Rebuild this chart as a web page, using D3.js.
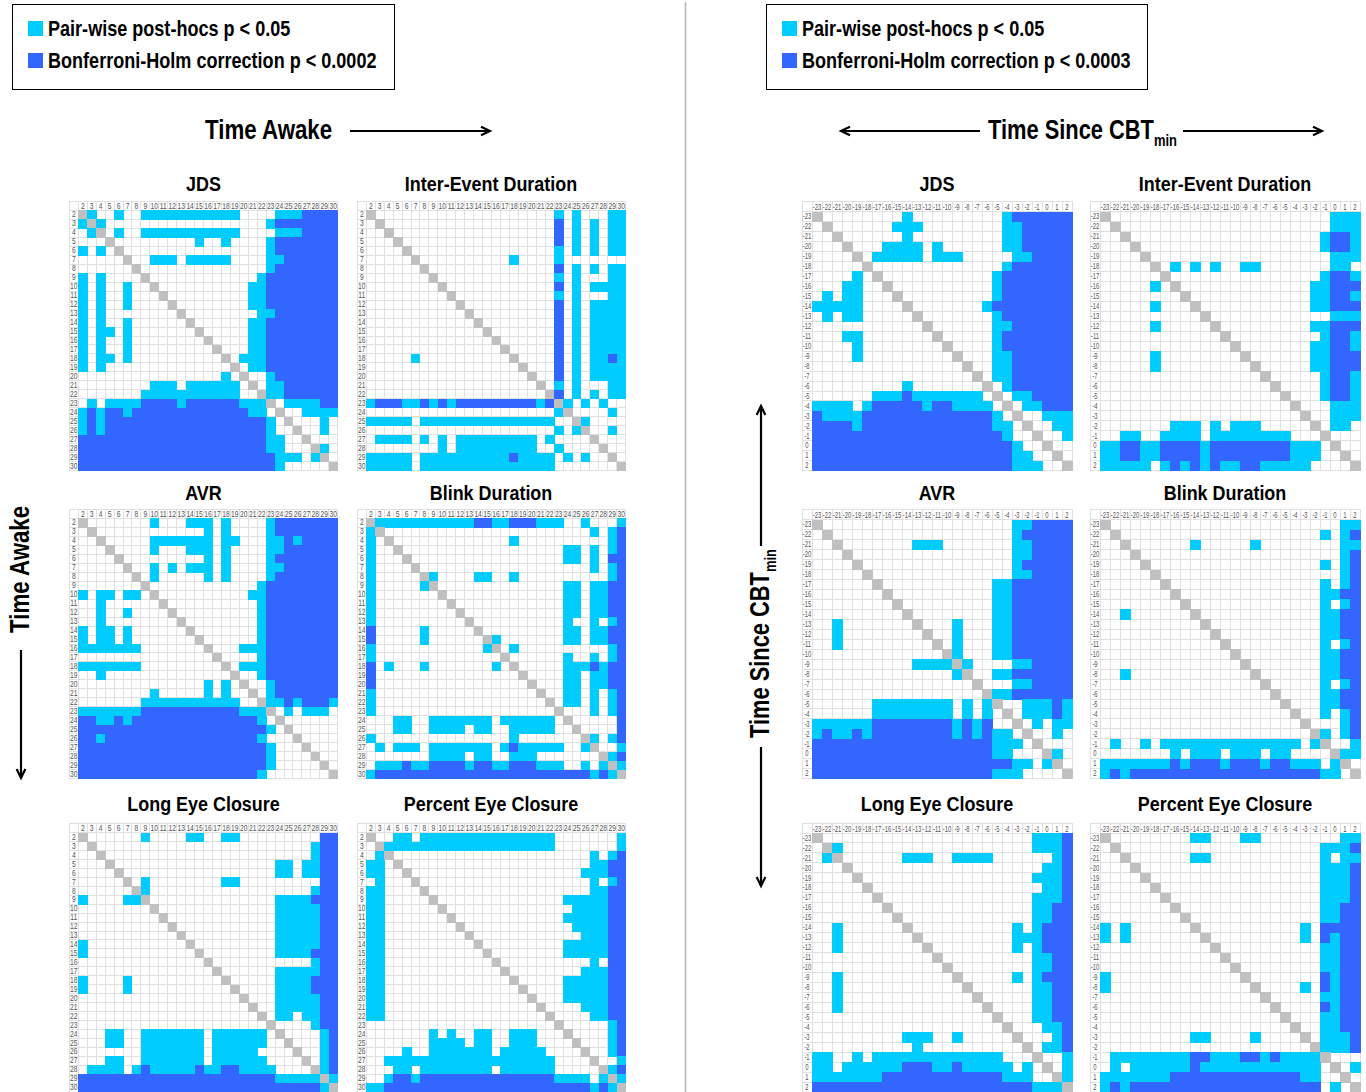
<!DOCTYPE html>
<html><head><meta charset="utf-8">
<script src="https://cdn.jsdelivr.net/npm/d3@7/dist/d3.min.js"></script>
<style>html,body{margin:0;padding:0;background:#fff;overflow:hidden}svg{display:block}</style>
</head><body><svg id="c" width="1366" height="1092"></svg>
<script>
const awakeLabels=["2","3","4","5","6","7","8","9","10","11","12","13","14","15","16","17","18","19","20","21","22","23","24","25","26","27","28","29","30"];
const cbtLabels=["-23","-22","-21","-20","-19","-18","-17","-16","-15","-14","-13","-12","-11","-10","-9","-8","-7","-6","-5","-4","-3","-2","-1","0","1","2"];
const legendLeft=["Pair-wise post-hocs p < 0.05","Bonferroni-Holm correction p < 0.0002"];
const legendRight=["Pair-wise post-hocs p < 0.05","Bonferroni-Holm correction p < 0.0003"];
// cell codes: . not significant, c pair-wise p<0.05, b Bonferroni-Holm, # diagonal
const jdsAwake=[
"#c..c ..ccc ccccc ccc.. ..ccc bbbb",
"c#c.. ..... ..... ..... .cbbb bbbb",
".c#.c ..ccc ccccc ccc.. ..ccc bbbb",
"...#. ..... ...c. .c... .cbbb bbbb",
"c.c.# ..... ..... ..... .cbbb bbbb",
"..... #..cc c.ccc cc... .ccbb bbbb",
"..... .#... ..... ..... .cbbb bbbb",
"c.c.. ..#.. ..... ..... cbbbb bbbb",
"c.c.. c..#. ..... ....c cbbbb bbbb",
"c.c.. c...# ..... ....c cbbbb bbbb",
"c.c.. c.... #.... ....c cbbbb bbbb",
"c.c.. ..... .#... ..... ccbbb bbbb",
"c.c.. c.... ..#.. ....c cbbbb bbbb",
"c.cc. c.... ...#. ....c cbbbb bbbb",
"c.c.. c.... ....# ....c cbbbb bbbb",
"c.c.. c.... ..... #...c cbbbb bbbb",
"c.cc. c.... ..... .#.cc cbbbb bbbb",
"c.c.. ..... ..... ..#.c cbbbb bbbb",
"..... ..... ..... .c.#. .cbbb bbbb",
"..... ...cc c.ccc ccc.# .ccbb bbbb",
"..... ..ccc ccccc ccc.. #ccbb bbbb",
".c.cc ccbbb bcbbb bbbcc c#.cc ccbb",
"cbcbb cbbbb bbbbb bbbbc c.#.. cccc",
"cbcbb bbbbb bbbbb bbbbb bc.#. ..c.",
"cbcbb bbbbb bbbbb bbbbb bc..# ..c.",
"bbbbb bbbbb bbbbb bbbbb bcc.. #...",
"bbbbb bbbbb bbbbb bbbbb bcc.. .#c.",
"bbbbb bbbbb bbbbb bbbbb bbccc .c#.",
"bbbbb bbbbb bbbbb bbbbb bbc.. ...#"];
const interEventAwake=[
"#.... ..... ..... ..... .c.c. ..cc",
".#... ..... ..... ..... .b.c. c.cc",
"..#.. ..... ..... ..... .b.c. c.cc",
"...#. ..... ..... ..... .b.c. c.cc",
"....# ..... ..... ..... .c.c. c.cc",
"..... #.... ..... .c... .c... ....",
"..... .#... ..... ..... .b.c. c.cc",
"..... ..#.. ..... ..... .c.c. ..cc",
"..... ...#. ..... ..... .b.c. cccc",
"..... ....# ..... ..... .c.c. ..cc",
"..... ..... #.... ..... .b.c. cccc",
"..... ..... .#... ..... .b.c. cccc",
"..... ..... ..#.. ..... .b.c. cccc",
"..... ..... ...#. ..... .b.c. cccc",
"..... ..... ....# ..... .b.c. cccc",
"..... ..... ..... #.... .b.c. cccc",
"..... c.... ..... .#... .b.c. ccbc",
"..... ..... ..... ..#.. .b.c. cccc",
"..... ..... ..... ...#. .b.c. cccc",
"..... ..... ..... ....# .c.c. ..cc",
"..... ..... ..... ..... #b.c. c.cc",
"cbbbc cbcbc bbbbb bbbbc b#c.c .c..",
"..... ..... ..... ..... .c#.. ..c.",
"ccccc .cccc ccccc ccccc c..#c ....",
"..... ..... ..... ..... .c.c# ..c.",
".cccc .c.c. ccccc cccc. c.... #...",
"..... ...c. ccccc cccc. .c... .#..",
"ccccc .cccc ccccc cbccc c.c.c ..#.",
"ccccc .cccc ccccc ccccc c.... ...#"];
const avrAwake=[
"#.... ...c. ..ccc .c... .cbbb bbbb",
".#... ..... ....c .c... .cbbb bbbb",
"..#.. ...cc ccccc .cc.. .ccbc bbbb",
"...#. ...c. ..ccc .c... .ccbb bbbb",
"....# ..... ....c .c... .cbbb bbbb",
"..... #..c. c.ccc .c... .ccbb bbbb",
"..... .#.c. ....c .c... .cbbb bbbb",
"..... ..#.. ..... ..... cbbbb bbbb",
"c.cc. cc.#. ..... ....c cbbbb bbbb",
"..c.. ....# ..... ..... cbbbb bbbb",
"..c.. c.... #.... ..... cbbbb bbbb",
"..c.. ..... .#... ..... cbbbb bbbb",
"c.cc. c.... ..#.. ..... cbbbb bbbb",
"c.cc. c.... ...#. ..... cbbbb bbbb",
"ccccc cc... ....# ...cc cbbbb bbbb",
"..... ..... ..... #.... cbbbb bbbb",
"ccccc cc... ..... .#.cc cbbbb bbbb",
"..c.. ..... ..... ..#.. cbbbb bbbb",
"..... ..... ....c .c.#. .cbbb bbbb",
"..... ...c. ....c .c..# .cbbb bbbb",
"..... ..ccc ccccc ccc.. #ccbc bbbc",
"ccccc ccbbb bbbbb bbbcc c#.c. ccc.",
"bbccb cbbbb bbbbb bbbbb c.#.. ....",
"bbbbb bbbbb bbbbb bbbbb bc.#. ....",
"bbcbb bbbbb bbbbb bbbbb c...# ....",
"bbbbb bbbbb bbbbb bbbbb bc... #...",
"bbbbb bbbbb bbbbb bbbbb bc... .#..",
"bbbbb bbbbb bbbbb bbbbb bc... ..#.",
"bbbbb bbbbb bbbbb bbbbb c.... ...#"];
const blinkAwake=[
"#cccc ccccc ccbbc cbbbc cc..c ...c",
"c#... ..... ..... ..... ..... c.cb",
"c.#.. ..... ..... .c... ..... ..cb",
"c..#. ..... ..... ..... ..cc. c.cb",
"c...# ..... ..... ..... ..cc. c.bb",
"c.... #.... ..... ..... ..... c.cb",
"c.... .#c.. ..cc. .c... ..... ..cb",
"c.... .c#.. ..... ..... ..cc. ccbb",
"c.... ...#. ..... ..... ..cc. ccbb",
"c.... ....# ..... ..... ..cc. ccbb",
"c.... ..... #.... ..... ..cc. ccbb",
"c.... ..... .#... ..... ..c.. c.cb",
"b.... .c... ..#.. ..... ..cc. ccbb",
"b.... .c... ...#c ..... ..cc. ccbb",
"c.... ..... ...c# .c... ..... ..cb",
"c.... ..... ..... #.... ..c.. c.cb",
"b.c.. .c... ....c .#... ..ccc bcbb",
"b.... ..... ..... ..#.. ..cc. ccbb",
"b.... ..... ..... ...#. ..cc. ccbb",
"c.... ..... ..... ....# ..cc. c.cb",
"c.... ..... ..... ..... #.cc. c.cb",
"c.... ..... ..... ..... .#... c.cb",
"...cc ..ccc cccc. ccccc c.#.. ...b",
"...cc ..ccc c.cc. .cccc c..#. ...b",
"c.... ..... ..... .c... ....# c.cb",
".c.cc c.ccc cccc. cbccc cc..c #..c",
"..... ..ccc c.cc. .ccc. ..... .#cb",
".cccb ccbbb bcbbc cbbbc cc..c .c#c",
"cbbbb bbbbb bbbbb bbbbb bbbbb cbc#"];
const longAwake=[
"#.... ..c.. ..cc. .cc.. ..... ..bb",
".#... ..... ..... ..... ..... .cbb",
"..#.. ..... ..... ..... ..... .cbb",
"...#. ..... ..... ..... ..cc. ccbb",
"....# ..... ..... ..... ..cc. ccbb",
"..... #.c.. ..... .cc.. ..... ..bb",
"..... .#c.. ..... ..... ..... .cbb",
"c.... cc#.. ..... ..... ..ccc cbbb",
"..... ...#. ..... ..... ..ccc ccbb",
"..... ....# ..... ..... ..ccc ccbb",
"..... ..... #.... ..... ..ccc ccbb",
"..... ..... .#... ..... ..ccc ccbb",
"c.... ..... ..#.. ..... ..ccc ccbb",
"c.... ..... ...#. ..... ..ccc cbbb",
"..... ..... ....# ..... ..... .cbb",
"..... ..... ..... #.... ..ccc ccbb",
"c.... c.... ..... .#... ..ccc cbbb",
"c.... c.... ..... ..#.. ..ccc cbbb",
"..... ..... ..... ...#. ..ccc ccbb",
"..... ..... ..... ....# ..ccc ccbb",
"..... ..... ..... ..... #.cc. ccbb",
"..... ..... ..... ..... .#... .cbb",
"...cc ..ccc cccc. ccccc c.#.. ..cb",
"...cc ..ccc cccc. ccccc c..#. ..cb",
"..... ..ccc cccc. ccccc ....# ..cb",
"...cc ..ccc cccc. ccccc c.... #.cb",
".cccc .cbcc cccbc cbbcc cc... .#cb",
"bbbbb bbbbb bbbbb bbbbb bbccc cc#c",
"bbbbb bbbbb bbbbb bbbbb bbbbb bbc#"];
const percentAwake=[
"#..cc .cccc ccccc ccccc c.... ...c",
".#ccc ccccc ccccc ccccc c.... ...c",
".c#.. ..... ..... ..... ..... c.cb",
"cc.#. ..... ..... ..... ..... ccbb",
"cc..# ..... ..... ..... ....c ccbb",
".c... #.... ..... ..... ..... c.cb",
"cc... .#... ..... ..... ..... ccbb",
"cc... ..#.. ..... ..... ..ccc ccbb",
"cc... ...#. ..... ..... ...cc ccbb",
"cc... ....# ..... ..... ..ccc ccbb",
"cc... ..... #.... ..... ...cc ccbb",
"cc... ..... .#... ..... ....c ccbb",
"cc... ..... ..#.. ..... ..ccc ccbb",
"cc... ..... ...#. ..... ..ccc ccbb",
"cc... ..... ....# ..... ..... c.bb",
"cc... ..... ..... #.... ....c ccbb",
"cc... ..... ..... .#... ..ccc ccbb",
"cc... ..... ..... ..#.. ..ccc ccbb",
"cc... ..... ..... ...#. ..ccc ccbb",
"cc... ..... ..... ....# ....c ccbb",
"cc... ..... ..... ..... #.... ccbb",
"..... ..... ..... ..... .#... ..cb",
"..... ..c.c ..cc. .ccc. ..#.. ..cb",
"..... ..ccc c.cc. .ccc. ...#. ..cb",
"....c ..ccc cccc. ccccc ....# ..cb",
"..ccc ccccc ccccc ccccc c.... #..c",
"...cc .cccc cccc. ccccc c.... .#cb",
"..cbb cbbbb bbbbb bbbbb bcccc .c#c",
"ccbbb bbbbb bbbbb bbbbb bbbbb cbc#"];
const jdsCbt=[
"#.... ....c ..... ....c bbbbbb",
".#... ...cc c.... ....c cbbbbb",
"..#.. ....c ..... ....c cbbbbb",
"...#. ..ccc c.c.. ....c cbbbbb",
"....# .cccc c.ccc ..... ccbbbb",
"..... #.... ..... ....c bbbbbb",
"....c .#... ..... ...cb bbbbbb",
"...cc ..#.. ..... ...cb bbbbbb",
".c.cc ...#. ..... ...cb bbbbbb",
"ccccc ....# ..... ..cbb bbbbbb",
".c.cc ..... #.... ...cb bbbbbb",
"..... ..... .#... ...cc bbbbbb",
"...cc ..... ..#.. ...cb bbbbbb",
"....c ..... ...#. ...cb bbbbbb",
"....c ..... ....# ...cc bbbbbb",
"..... ..... ..... #..cc bbbbbb",
"..... ..... ..... .#.cc bbbbbb",
"..... ....c ..... ..#.c bbbbbb",
"..... .cccb ccccc cc.#. ccbbbb",
"cccc. cbbbb bcbbc ccc.# .ccbbb",
"bcccc bbbbb bbbbb bbbc. #..ccc",
"bbbbc bbbbb bbbbb bbbcc .#..cc",
"bbbbb bbbbb bbbbb bbbbc ..#..c",
"bbbbb bbbbb bbbbb bbbbb c..#..",
"bbbbb bbbbb bbbbb bbbbb cc..#.",
"bbbbb bbbbb bbbbb bbbbb ccc..#"];
const interEventCbt=[
"#.... ..... ..... ..... ...ccc",
".#... ..... ..... ..... ...ccc",
"..#.. ..... ..... ..... ..cbbc",
"...#. ..... ..... ..... ..cbbc",
"....# ..... ..... ..... ...ccc",
"..... #.c.c .c..c c.... ...cc.",
"..... .#... ..... ..... ..cbbc",
"..... c.#.. ..... ..... .ccbbb",
"..... ...#. ..... ..... .ccbbc",
"..... c...# ..... ..... .ccbbb",
"..... ..... #.... ..... ...ccc",
"..... c.... .#... ..... .ccbbb",
"..... ..... ..#.. ..... ..cbbc",
"..... ..... ...#. ..... .ccbbc",
"..... c.... ....# ..... .ccbbb",
"..... c.... ..... #.... .ccbbb",
"..... ..... ..... .#... ..cbbc",
"..... ..... ..... ..#.. ..cbbc",
"..... ..... ..... ...#. ..cbbc",
"..... ..... ..... ....# ...ccc",
"..... ..... ..... ..... #..ccc",
"..... ..ccc .c.cc c.... .#.cc.",
"..cc. .cccc .cccc cccc. ..#...",
"ccbbc cbbbb cbbbb bbbbc cc.#..",
"ccbbc cbbbb cbbbb bbbbc cc..#.",
"ccccc .cbcb cbccb bcccc c....#"];
const avrCbt=[
"#.... ..... ..... ..... ccbbbb",
".#... ..... ..... ..... cbbbbb",
"..#.. ..... ccc.. ..... ccbbbb",
"...#. ..... ..... ..... ccbbbb",
"....# ..... ..... ..... cbbbbb",
"..... #.... ..... ..... ccbbbb",
"..... .#... ..... ...cc bbbbbb",
"..... ..#.. ..... ...cc bbbbbb",
"..... ...#. ..... ...cc bbbbbb",
"..... ....# ..... ...cc bbbbbb",
"..c.. ..... #...c ...cc bbbbbb",
"..c.. ..... .#..c ...cc bbbbbb",
"..c.. ..... ..#.c ...cc bbbbbb",
"..... ..... ...#c ...cc bbbbbb",
"..... ..... cccc# c.... ccbbbb",
"..... ..... ....c #..cc bbbbbb",
"..... ..... ..... .#... ccbbbb",
"..... ..... ..... ..#cc bbbbbb",
"..... .cccc cccc. c.c#. .cccbc",
"..... .cccc cccc. c.c.# .cccbc",
"ccccc cbbbb bbbbc bcb.. #.c.cc",
"cbccb cbbbb bbbbc bcbcc .#..c.",
"bbbbb bbbbb bbbbb bbbcc c.#...",
"bbbbb bbbbb bbbbb bbbcc ...#c.",
"bbbbb bbbbb bbbbb bbbbb cc.c#.",
"bbbbb bbbbb bbbbb bbbcc c....#"];
const blinkCbt=[
"#.... ..... ..... ..... ....cc",
".#... ..... ..... ..... ..c.cb",
"..#.. ....c ..... c.... ....cc",
"...#. ..... ..... ..... ....cb",
"....# ..... ..... ..... ..c.cb",
"..... #.... ..... ..... ....cb",
"..... .#... ..... ..... ..c.cb",
"..... ..#.. ..... ..... ..ccbb",
"..... ...#. ..... ..... ..c.cb",
"..c.. ....# ..... ..... ..ccbb",
"..... ..... #.... ..... ..ccbb",
"..... ..... .#... ..... ..ccbb",
"..... ..... ..#.. ..... ..c.cb",
"..... ..... ...#. ..... ..ccbb",
"..... ..... ....# ..... ..ccbb",
"..c.. ..... ..... #.... ..ccbb",
"..... ..... ..... .#... ..c.cb",
"..... ..... ..... ..#.. ..ccbb",
"..... ..... ..... ...#. ..ccbb",
"..... ..... ..... ....# ..c.cb",
"..... ..... ..... ..... #...cb",
"..... ..... ..... ..... .#c.cb",
".c..c .cccc ccccc ccccc .c#..c",
"..... ..c.c cc.cc c.cc. ...#cc",
"ccccc ccbcb bbcbb bcbbc cc.c#.",
"cbcbb bbbbb bbbbb bbbbb bbcc.#"];
const longCbt=[
"#.... ..... ..... ..... ..cccb",
".#c.. ..... ..... ..... ..cccb",
".c#.. ....c cc..c ccc.. ....cb",
"...#. ..... ..... ..... ...ccb",
"....# ..... ..... ..... ..cccb",
"..... #.... ..... ..... ...ccb",
"..... .#... ..... ..... ..cccb",
"..... ..#.. ..... ..... ..ccbb",
"..... ...#. ..... ..... ..ccbb",
"..c.. ....# ..... ..... c.cbbb",
"..c.. ..... #.... ..... cccbbb",
"..c.. ..... .#... ..... c.cbbb",
"..... ..... ..#.. ..... ..ccbb",
"..... ..... ...#. ..... ..ccbb",
"..c.. ..... ....# ..... c.cbbb",
"..c.. ..... ..... #.... ..ccbb",
"..c.. ..... ..... .#... ..ccbb",
"..c.. ..... ..... ..#.. ..ccbb",
"..... ..... ..... ...#. ..ccbb",
"..... ..... ..... ....# ...ccb",
"..... ....c cc..c ..... #...cb",
"..... ..... c.... ..... .#.ccb",
"cc..c .cccc ccccc cccc. ..#..c",
"cc.cc ccccb bbccb ccccc .c.#.c",
"ccccc ccbbb bbbbb bbbbc cc..#c",
"bbbbb bbbbb bbbbb bbbbb bbccc#"];
const percentCbt=[
"#.... ....c c...c c.... ....cc",
".#... ..... ..... ..... ..cccb",
"..#.. ....c c.... ..... ..c.cc",
"...#. ..... ..... ..... ..cccb",
"....# ..... ..... ..... ..cccb",
"..... #.... ..... ..... ..cccb",
"..... .#... ..... ..... ..cccb",
"..... ..#.. ..... ..... ..ccbb",
"..... ...#. ..... ..... ..ccbb",
"c.c.. ....# ..... ..... c.bbbb",
"c.c.. ..... #.... ..... c.bcbb",
"..... ..... .#... ..... ..ccbb",
"..... ..... ..#.. ..... ..ccbb",
"..... ..... ...#. ..... ..ccbb",
"c.... ..... ....# ..... ..bcbb",
"c.... ..... ..... #.... c.bcbb",
"..... ..... ..... .#... ..ccbb",
"..... ..... ..... ..#.. ..bcbb",
"..... ..... ..... ...#. ..ccbb",
"..... ..... ..... ....# ..ccbb",
"..... ....c c.... c.... #.cccb",
"..... ..... ..... ..... .#cccb",
".cccc ccccb bcccb bcbcc cc#...",
".c.cc ccccb ccccc ccccc cc.#.c",
"ccccc ccbbb bbbbb bbbbb cc..#.",
"cbcbb bbbbb bbbbb bbbbb bb.c.#"];

const colors={".":"#fff",c:"#00ccff",b:"#3366ff","#":"#c0c0c0"};
const SANS="'Liberation Sans',Arial,sans-serif";
const svg=d3.select("#c");

function panel(matrix,labels,x0,y0,x1,y1,title,titleX,titleY){
  const rows=matrix.map(r=>r.replace(/ /g,""));
  rows.forEach((r,i)=>{if(r.length!==labels.length||rows.length!==labels.length)throw new Error(title+" row "+labels[i]+" len "+r.length)});
  const x=d3.scaleBand().domain(labels).range([x0,x1]);
  const y=d3.scaleBand().domain(labels).range([y0,y1]);
  const g=svg.append("g").attr("shape-rendering","crispEdges");
  const cells=[];
  rows.forEach((r,i)=>[...r].forEach((ch,j)=>cells.push({r:labels[i],c:labels[j],ch})));
  const grid="#e0e0e0";
  const hx=x.step(),hy=y.step();
  g.append("rect").attr("x",x0-hx).attr("y",y0-hy).attr("width",hx).attr("height",hy).attr("fill","#fff").attr("stroke",grid);
  g.selectAll(".hc").data(labels).join("rect").attr("x",d=>x(d)).attr("y",y0-hy).attr("width",hx).attr("height",hy).attr("fill","#fff").attr("stroke",grid);
  g.selectAll(".hr").data(labels).join("rect").attr("x",x0-hx).attr("y",d=>y(d)).attr("width",hx).attr("height",hy).attr("fill","#fff").attr("stroke",grid);
  g.selectAll(".w").data(cells.filter(d=>d.ch===".")).join("rect")
    .attr("x",d=>x(d.c)).attr("y",d=>y(d.r)).attr("width",hx).attr("height",hy).attr("fill","#fff").attr("stroke",grid);
  g.selectAll(".f").data(cells.filter(d=>d.ch!==".")).join("rect")
    .attr("x",d=>x(d.c)).attr("y",d=>y(d.r)).attr("width",hx+0.5).attr("height",hy+0.5).attr("fill",d=>colors[d.ch]);
  const wide=labels.length<29;
  const fs=8.4, sx=wide?0.7:0.8;
  const ax=svg.append("g").attr("transform",`translate(0,${y0})`).call(d3.axisTop(x).tickSize(0).tickPadding(1.5));
  ax.select(".domain").remove();
  const ay=svg.append("g").attr("transform",`translate(${x0-hx/2},0)`).call(d3.axisLeft(y).tickSize(0).tickPadding(0));
  ay.select(".domain").remove();
  ay.selectAll("text").attr("x",0).attr("text-anchor","middle");
  [ax,ay].forEach(a=>a.selectAll("text").attr("font-family",SANS).attr("font-size",fs).attr("fill","#555").attr("transform",`scale(${sx},1)`));
  svg.append("text").attr("transform",`translate(${titleX},${titleY}) scale(0.855,1)`).attr("text-anchor","middle")
    .attr("font-family",SANS).attr("font-weight","bold").attr("font-size",21).text(title);
}
function legend(x,y,w,h,sx,tx,lines){
  svg.append("rect").attr("x",x+.5).attr("y",y+.5).attr("width",w).attr("height",h).attr("fill","#fff").attr("stroke","#000");
  lines.forEach((t,i)=>{
    svg.append("rect").attr("x",sx).attr("y",21+32*i).attr("width",15).attr("height",15).attr("fill",i?colors.b:colors.c);
    svg.append("text").attr("transform",`translate(${tx},${35.5+32*i}) scale(0.84,1)`).attr("font-family",SANS).attr("font-weight","bold").attr("font-size",21.5).text(t);
  });
}
function arrow(x1,y1,x2,y2){
  const a=Math.atan2(y2-y1,x2-x1),L=10,W=.45;
  svg.append("line").attr("x1",x1).attr("y1",y1).attr("x2",x2).attr("y2",y2).attr("stroke","#000").attr("stroke-width",2.2);
  svg.append("path").attr("fill","none").attr("stroke","#000").attr("stroke-width",2.2)
    .attr("d",d3.line()([[x2-L*Math.cos(a-W),y2-L*Math.sin(a-W)],[x2,y2],[x2-L*Math.cos(a+W),y2-L*Math.sin(a+W)]]));
}
function bigText(x,y,rot,main,sub){
  const t=svg.append("text").attr("transform",`translate(${x},${y}) rotate(${rot}) scale(${sub?0.81:0.825},1)`)
    .attr("font-family",SANS).attr("font-weight","bold").attr("font-size",27).text(main);
  if(sub)t.append("tspan").attr("font-size",16).attr("dy",7).text(sub);
}

svg.append("line").attr("x1",685.5).attr("x2",685.5).attr("y1",2).attr("y2",1092).attr("stroke","#b5b5b5").attr("stroke-width",1.5);
legend(12,4,382,85,28,48,legendLeft);
legend(766,4,381,85,782,802,legendRight);
bigText(205,139,0,"Time Awake");
arrow(350,131,490,131);
bigText(29,633,-90,"Time Awake");
arrow(21,650,21,778);
bigText(988,139,0,"Time Since CBT","min");
arrow(980,131,841,131);arrow(1183,131,1322,131);
bigText(769,738,-90,"Time Since CBT","min");
arrow(761,546,761,406);arrow(761,747,761,886);

const a=[78.3,337.7,366.3,625.7];
panel(jdsAwake,awakeLabels,a[0],210.3,a[1],470.7,"JDS",203.5,191);
panel(interEventAwake,awakeLabels,a[2],210.3,a[3],470.7,"Inter-Event Duration",491,191);
panel(avrAwake,awakeLabels,a[0],518.3,a[1],778.7,"AVR",203.5,500);
panel(blinkAwake,awakeLabels,a[2],518.3,a[3],778.7,"Blink Duration",491,500);
panel(longAwake,awakeLabels,a[0],832.7,a[1],1092,"Long Eye Closure",203.5,811);
panel(percentAwake,awakeLabels,a[2],832.7,a[3],1092,"Percent Eye Closure",491,811);
const b=[812,1072,1100,1360];
panel(jdsCbt,cbtLabels,b[0],211.7,b[1],470.7,"JDS",937,191);
panel(interEventCbt,cbtLabels,b[2],211.7,b[3],470.7,"Inter-Event Duration",1225,191);
panel(avrCbt,cbtLabels,b[0],519.7,b[1],778.7,"AVR",937,500);
panel(blinkCbt,cbtLabels,b[2],519.7,b[3],778.7,"Blink Duration",1225,500);
panel(longCbt,cbtLabels,b[0],833,b[1],1092,"Long Eye Closure",937,811);
panel(percentCbt,cbtLabels,b[2],833,b[3],1092,"Percent Eye Closure",1225,811);
</script></body></html>
